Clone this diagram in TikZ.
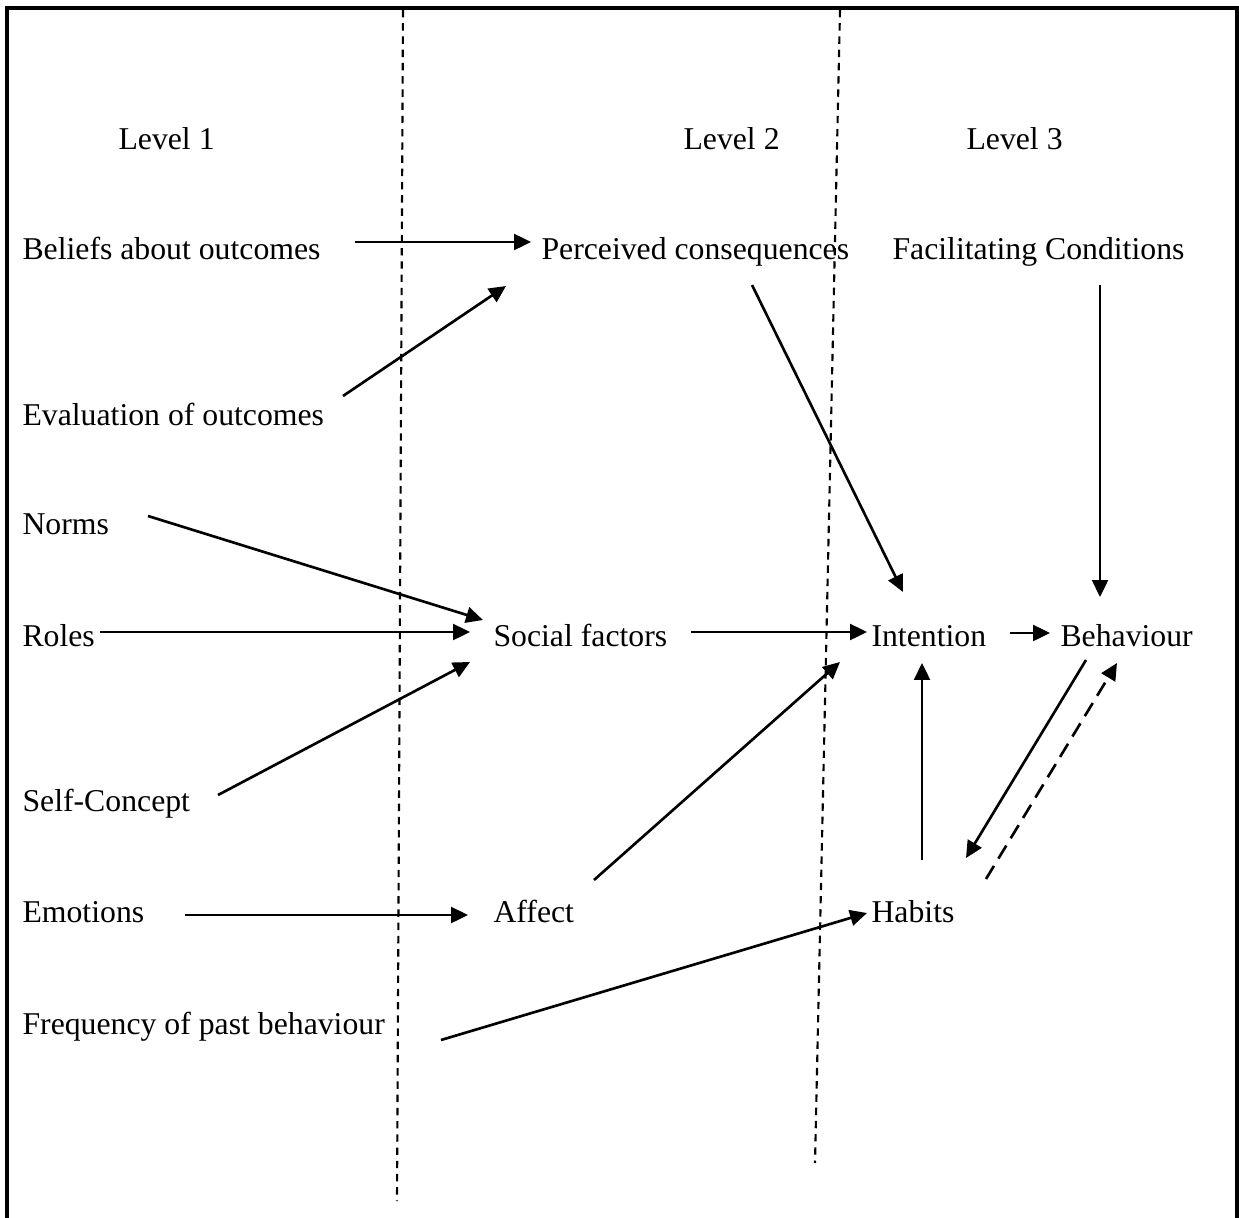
\documentclass[tikz,border=0pt]{standalone}
\usepackage{fontspec}
\setmainfont{Liberation Serif}
\usetikzlibrary{arrows.meta,calc}
\begin{document}
\begin{tikzpicture}[x=0.378pt,y=-0.378pt,
  lbl/.style={anchor=base west,inner sep=0pt,font=\fontsize{12}{14}\selectfont},
  arr/.style={line width=1pt,-{Triangle[length=6.4pt,width=6pt]}},
  divider/.style={line width=0.8pt,dash pattern=on 2.8pt off 2.2pt},
  feedback/.style={arr,dash pattern=on 5.8pt off 3.2pt}]
\path[use as bounding box] (0,0) rectangle (1239,1218);

% open frame (no bottom edge)
\draw[line width=1.2pt] (7,1218) -- (7,8) -- (1237,8) -- (1237,1218);

% level dividers
\draw[divider] (403,10) -- (397,1201);
\draw[divider] (840,10) -- (815,1163);

% level headings
\node[lbl] (lev1) at (118,150) {Level 1};
\node[lbl] (lev2) at (683,150) {Level 2};
\node[lbl] (lev3) at (966,150) {Level 3};

% constructs
\node[lbl] (beliefs) at (22,259)  {Beliefs about outcomes};
\node[lbl] (perc)    at (541,259) {Perceived consequences};
\node[lbl] (facil)   at (892,259) {Facilitating Conditions};
\node[lbl] (eval)    at (22,425)  {Evaluation of outcomes};
\node[lbl] (norms)   at (22,534)  {Norms};
\node[lbl] (roles)   at (22,646)  {Roles};
\node[lbl] (social)  at (493,646) {Social factors};
\node[lbl] (intent)  at (871,646) {Intention};
\node[lbl] (behav)   at (1060,646){Behaviour};
\node[lbl] (self)    at (22,811)  {Self-Concept};
\node[lbl] (emot)    at (22,922)  {Emotions};
\node[lbl] (affect)  at (493,922) {Affect};
\node[lbl] (habits)  at (871,922) {Habits};
\node[lbl] (freq)    at (22,1034) {Frequency of past behaviour};

% level 1 -> level 2
\draw[arr] ($(beliefs.base west)+(333,-17)$) -- ($(perc.base west)+(-10,-17)$);
\draw[arr] ($(eval.base west)+(321,-29)$) -- ($(perc.base west)+(-35,27)$);
\draw[arr] ($(norms.base west)+(126,-18)$) -- ($(social.base west)+(-10,-26)$);
\draw[arr] ($(roles.base west)+(78,-14)$) -- ($(social.base west)+(-23,-14)$);
\draw[arr] ($(self.base west)+(196,-16)$) -- ($(social.base west)+(-23,16)$);
\draw[arr] ($(emot.base west)+(163,-7)$) -- ($(affect.base west)+(-25,-7)$);
\draw[arr] ($(freq.base west)+(419,6)$) -- ($(habits.base west)+(-4,-9)$);

% level 2 -> level 3
\draw[arr] ($(perc.base west)+(211,26)$) -- ($(intent.base west)+(32,-54)$);
\draw[arr] ($(social.base west)+(198,-14)$) -- ($(intent.base west)+(-4,-14)$);
\draw[arr] ($(affect.base west)+(101,-42)$) -- ($(intent.base west)+(-31,16)$);

% level 3
\draw[arr] ($(facil.base west)+(208,26)$) -- ($(behav.base west)+(40,-49)$);
\draw[arr] ($(intent.base west)+(139,-13)$) -- ($(behav.base west)+(-10,-13)$);
\draw[arr] ($(habits.base west)+(51,-62)$) -- ($(intent.base west)+(51,17)$);
\draw[arr] ($(behav.base west)+(26,14)$) -- ($(habits.base west)+(95,-64)$);
\draw[feedback] ($(habits.base west)+(115,-43)$) -- ($(behav.base west)+(57,17)$);
\end{tikzpicture}
\end{document}
